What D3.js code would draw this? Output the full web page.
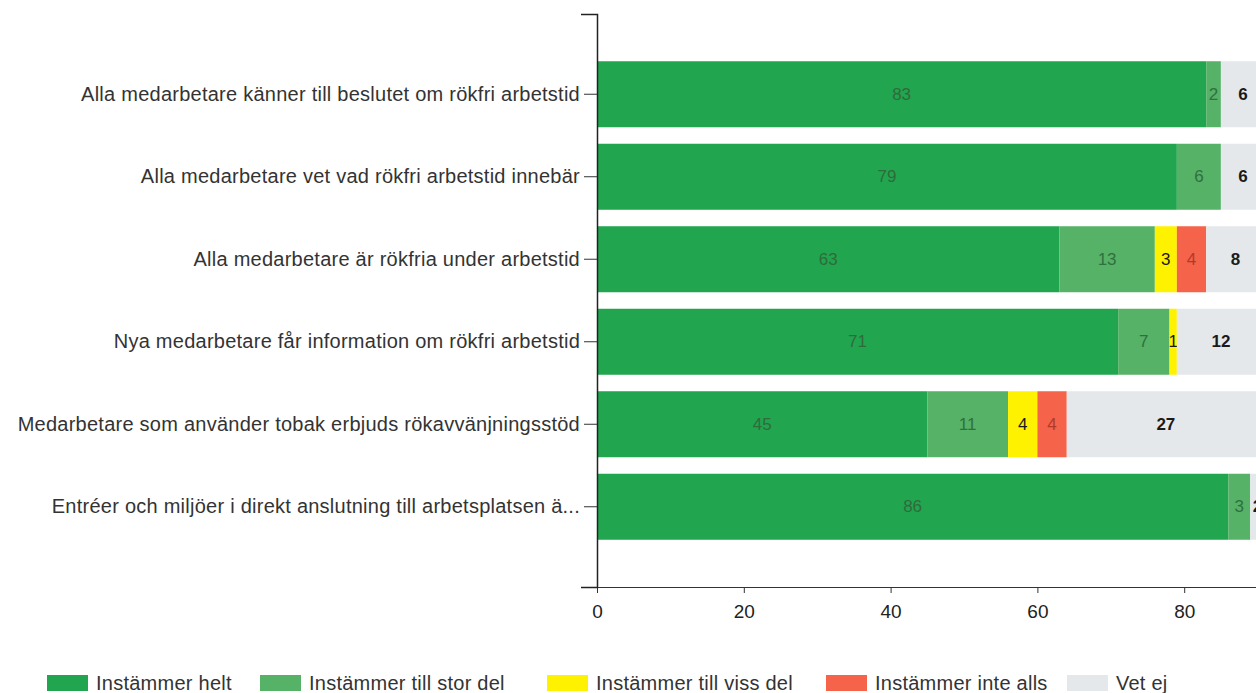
<!DOCTYPE html>
<html>
<head>
<meta charset="utf-8">
<script src="https://cdn.jsdelivr.net/npm/d3@7"></script>
<style>
  body { margin: 0; background: #fff; }
  svg { display: block; font-family: "Liberation Sans", Arial, sans-serif; }
</style>
</head>
<body>
<svg id="chart" width="1256" height="693"></svg>
<script>
const categories = [
  "Alla medarbetare känner till beslutet om rökfri arbetstid",
  "Alla medarbetare vet vad rökfri arbetstid innebär",
  "Alla medarbetare är rökfria under arbetstid",
  "Nya medarbetare får information om rökfri arbetstid",
  "Medarbetare som använder tobak erbjuds rökavvänjningsstöd",
  "Entréer och miljöer i direkt anslutning till arbetsplatsen ä..."
];
const seriesNames = ["Instämmer helt", "Instämmer till stor del", "Instämmer till viss del", "Instämmer inte alls", "Vet ej"];
const instammerHelt     = [83, 79, 63, 71, 45, 86];
const instammerStorDel  = [2, 6, 13, 7, 11, 3];
const instammerVissDel  = [0, 0, 3, 1, 4, 0];
const instammerInteAlls = [0, 0, 4, 0, 4, 0];
const vetEj             = [6, 6, 8, 12, 27, 2];
const xTicks = [0, 20, 40, 60, 80];

const colors = ["#21a64f", "#56b266", "#fff200", "#f5634a", "#e5e8eb"];
const labelColors = ["#2f6b3c", "#2f7040", "#1a1a1a", "#b13a2c", "#1a1a1a"];

const seriesArrays = [instammerHelt, instammerStorDel, instammerVissDel, instammerInteAlls, vetEj];
const table = categories.map((c, i) => {
  const row = { category: c };
  seriesNames.forEach((s, j) => row[s] = seriesArrays[j][i]);
  return row;
});

const svg = d3.select("#chart");
const x0 = 597, yTop = 14, yBot = 587;
const pxPerUnit = 7.34;

const x = d3.scaleLinear().domain([0, 100]).range([x0, x0 + 100 * pxPerUnit]);
const y = d3.scaleBand().domain(categories).range([yTop, yBot]).paddingInner(0.2).paddingOuter(0.5727);
const color = d3.scaleOrdinal().domain(seriesNames).range(colors);
const lcolor = d3.scaleOrdinal().domain(seriesNames).range(labelColors);

const stacked = d3.stack().keys(seriesNames)(table);

const g = svg.append("g");
stacked.forEach(layer => {
  g.selectAll(null).data(layer).enter().append("rect")
    .attr("x", d => x(d[0]))
    .attr("y", d => y(d.data.category))
    .attr("width", d => x(d[1]) - x(d[0]))
    .attr("height", y.bandwidth())
    .attr("fill", color(layer.key));
  g.selectAll(null).data(layer.filter(d => d[1] - d[0] > 0)).enter().append("text")
    .attr("x", d => x((d[0] + d[1]) / 2))
    .attr("y", d => y(d.data.category) + y.bandwidth() / 2)
    .attr("text-anchor", "middle")
    .attr("dominant-baseline", "central")
    .attr("font-size", 17)
    .attr("font-weight", layer.key === "Vet ej" ? "bold" : "normal")
    .attr("fill", lcolor(layer.key))
    .text(d => d[1] - d[0]);
});

// X axis
const xAxis = svg.append("g")
  .attr("transform", `translate(0,${yBot})`)
  .call(d3.axisBottom(x).tickValues(xTicks).tickSize(6).tickSizeOuter(0).tickPadding(12));
xAxis.selectAll("text").attr("font-size", 19).attr("fill", "#222").attr("font-family", "Liberation Sans, Arial, sans-serif");
xAxis.selectAll("line").attr("stroke", "#333");
xAxis.select(".domain").attr("stroke", "#333").attr("stroke-width", 1.2);

// Y axis
const yAxis = svg.append("g")
  .attr("transform", `translate(${x0},0)`)
  .call(d3.axisLeft(y).tickSizeInner(13).tickSizeOuter(16).tickPadding(4));
yAxis.selectAll("text").attr("font-size", 20).attr("letter-spacing", 0.25).attr("fill", "#333").attr("font-family", "Liberation Sans, Arial, sans-serif");
yAxis.selectAll("line").attr("stroke", "#333");
yAxis.select(".domain").attr("stroke", "#222").attr("stroke-width", 1.5);

// Legend
const legendSwatchX = [47, 260, 547, 826, 1067];
const legend = svg.append("g");
seriesNames.forEach((s, i) => {
  const lg = legend.append("g").attr("transform", `translate(${legendSwatchX[i]},675)`);
  lg.append("rect").attr("width", 41).attr("height", 16).attr("fill", color(s));
  lg.append("text").attr("x", 49).attr("y", 8).attr("dominant-baseline", "central")
    .attr("font-size", 20).attr("letter-spacing", 0.25).attr("fill", "#333").text(s);
});
</script>
</body>
</html>
